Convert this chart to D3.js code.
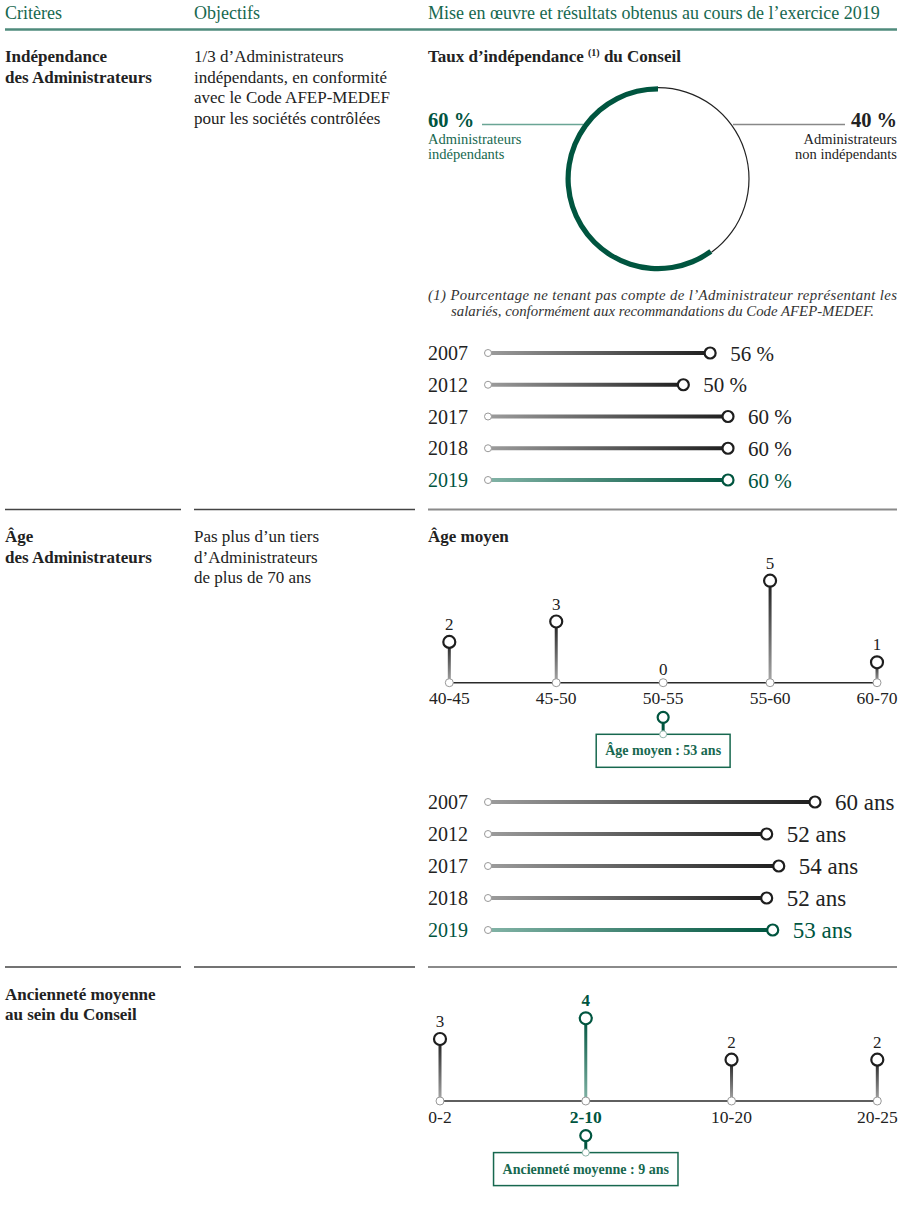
<!DOCTYPE html>
<html>
<head>
<meta charset="utf-8">
<script src="https://cdn.jsdelivr.net/npm/d3@7"></script>
<style>
  body { margin: 0; background: #fff; }
  svg { display: block; font-family: 'Liberation Serif', 'DejaVu Serif', serif; }
</style>
</head>
<body>
<script>
// --- data ---
const headers = ['Critères', 'Objectifs', 'Mise en œuvre et résultats obtenus au cours de l’exercice 2019']
const criteria = [
  ['Indépendance', 'des Administrateurs'],
  ['Âge', 'des Administrateurs'],
  ['Ancienneté moyenne', 'au sein du Conseil']
]
const objectives = [
  ['1/3 d’Administrateurs', 'indépendants, en conformité', 'avec le Code AFEP-MEDEF', 'pour les sociétés contrôlées'],
  ['Pas plus d’un tiers', 'd’Administrateurs', 'de plus de 70 ans'],
  []
]
const donutLabels = [['Administrateurs', 'indépendants'], ['Administrateurs', 'non indépendants']]
const donutValues = [60, 40]
const footnote = [
  '(1) Pourcentage ne tenant pas compte de l’Administrateur représentant les',
  'salariés, conformément aux recommandations du Code AFEP-MEDEF.'
]
const years = ['2007', '2012', '2017', '2018', '2019']
const independenceRates = [56, 50, 60, 60, 60]
const ageBands = ['40-45', '45-50', '50-55', '55-60', '60-70']
const ageCounts = [2, 3, 0, 5, 1]
const averageAges = [60, 52, 54, 52, 53]
const meanAge = 53
const tenureBands = ['0-2', '2-10', '10-20', '20-25']
const tenureCounts = [3, 4, 2, 2]
const meanTenure = 9
const tenureHighlight = '2-10'

const green = '#00553f', greenText = '#17684f', greenLight = '#6aa595', ink = '#222'

const svg = d3.select('body').append('svg').attr('width', 904).attr('height', 1210)

// gradients
const defs = svg.append('defs')
function grad(id, from, to, vertical) {
  const g = defs.append('linearGradient').attr('id', id)
    .attr('x1', 0).attr('y1', vertical ? 1 : 0).attr('x2', vertical ? 0 : 1).attr('y2', 0)
  g.append('stop').attr('offset', 0).attr('stop-color', from)
  g.append('stop').attr('offset', 1).attr('stop-color', to)
}
grad('hGrey', '#9c9c9c', '#1e1e1e', false)
grad('hGreen', '#82b3a6', green, false)
grad('vGrey', '#a8a8a8', '#1e1e1e', true)
grad('vGreen', '#82b3a6', green, true)

// --- header ---
const colX = [5, 194, 428]
svg.selectAll('text.hdr').data(headers).join('text')
  .attr('class', 'hdr')
  .attr('x', (d, i) => colX[i]).attr('y', 18.5)
  .attr('fill', greenText).attr('font-size', 18)
  .text(d => d)
svg.append('line').attr('x1', 5).attr('x2', 897).attr('y1', 29.5).attr('y2', 29.5)
  .attr('stroke', '#4f8b7c').attr('stroke-width', 2.5)

// section separators
const sepY = [29.5, 509.5, 967]
;[509.5, 967].forEach(y => {
  ;[[5, 181, '#444', 1.5], [194, 415, '#444', 1.5], [428, 897, '#8a8a8a', 2]].forEach(s => {
    svg.append('line').attr('x1', s[0]).attr('x2', s[1]).attr('y1', y).attr('y2', y)
      .attr('stroke', s[2]).attr('stroke-width', s[3])
  })
})

// criteria + objectives
criteria.forEach((lines, i) => {
  svg.append('text').attr('x', 5).attr('y', sepY[i] + 32.5)
    .attr('font-size', 17).attr('font-weight', 'bold').attr('fill', ink)
    .selectAll('tspan').data(lines).join('tspan')
    .attr('x', 5).attr('dy', (d, j) => j ? 20.5 : 0).text(d => d)
  svg.append('text').attr('x', 194).attr('y', sepY[i] + 32.5)
    .attr('font-size', 17).attr('fill', ink)
    .selectAll('tspan').data(objectives[i]).join('tspan')
    .attr('x', 194).attr('dy', (d, j) => j ? 20.7 : 0).text(d => d)
})

// chart titles
const t1 = svg.append('text').attr('x', 428).attr('y', 62)
  .attr('font-size', 17).attr('font-weight', 'bold').attr('fill', ink)
t1.append('tspan').text('Taux d’indépendance ')
t1.append('tspan').attr('font-size', 10).attr('dy', -6).text('(1)')
t1.append('tspan').attr('dy', 6).text(' du Conseil')
svg.append('text').attr('x', 428).attr('y', 541.5)
  .attr('font-size', 17).attr('font-weight', 'bold').attr('fill', ink).text('Âge moyen')

// --- donut ---
const cx = 658, cy = 178.7
const pie = d3.pie().sort(null).startAngle(0).endAngle(-2 * Math.PI)
const arcs = pie(donutValues)
const donut = svg.append('g').attr('transform', `translate(${cx},${cy})`)
donut.append('path')
  .attr('d', d3.arc().innerRadius(90.4).outerRadius(91.6)(arcs[1]))
  .attr('fill', ink)
donut.append('path')
  .attr('d', d3.arc().innerRadius(87.3).outerRadius(92.5)(arcs[0]))
  .attr('fill', green)

svg.append('line').attr('x1', 482).attr('x2', 583).attr('y1', 124.5).attr('y2', 124.5)
  .attr('stroke', greenLight).attr('stroke-width', 1.5)
svg.append('line').attr('x1', 733).attr('x2', 845).attr('y1', 124.5).attr('y2', 124.5)
  .attr('stroke', '#888').attr('stroke-width', 1.5)

svg.append('text').attr('x', 428).attr('y', 126.5)
  .attr('font-size', 20.5).attr('font-weight', 'bold').attr('fill', green)
  .text(donutValues[0] + ' %')
svg.append('text').attr('x', 897).attr('y', 126.5).attr('text-anchor', 'end')
  .attr('font-size', 20.5).attr('font-weight', 'bold').attr('fill', ink)
  .text(donutValues[1] + ' %')
svg.append('text').attr('x', 428).attr('y', 143.5)
  .attr('font-size', 14.5).attr('fill', greenText)
  .selectAll('tspan').data(donutLabels[0]).join('tspan')
  .attr('x', 428).attr('dy', (d, j) => j ? 15 : 0).text(d => d)
svg.append('text').attr('x', 897).attr('y', 143.5).attr('text-anchor', 'end')
  .attr('font-size', 14.5).attr('fill', ink)
  .selectAll('tspan').data(donutLabels[1]).join('tspan')
  .attr('x', 897).attr('dy', (d, j) => j ? 15 : 0).text(d => d)

// footnote
svg.append('text').attr('x', 428).attr('y', 300)
  .attr('font-size', 14.8).attr('font-style', 'italic').attr('fill', '#333')
  .attr('textLength', 469).attr('lengthAdjust', 'spacing').text(footnote[0])
svg.append('text').attr('x', 451).attr('y', 316)
  .attr('font-size', 14.8).attr('font-style', 'italic').attr('fill', '#333').text(footnote[1])

// --- horizontal history bars ---
function drawBars(values, yRange, xScale, suffix, valueSize) {
  const y = d3.scalePoint().domain(years).range(yRange)
  const rows = years.map((yr, i) => ({ yr, v: values[i], hi: yr === '2019' }))
  const g = svg.append('g')
  const x0 = 488
  g.selectAll('text.yr').data(rows).join('text')
    .attr('x', 428).attr('y', d => y(d.yr) + 7)
    .attr('font-size', 20).attr('fill', d => d.hi ? green : ink).text(d => d.yr)
  g.selectAll('rect').data(rows).join('rect')
    .attr('x', x0).attr('y', d => y(d.yr) - 2)
    .attr('width', d => xScale(d.v) - x0).attr('height', 4)
    .attr('fill', d => d.hi ? 'url(#hGreen)' : 'url(#hGrey)')
  g.selectAll('circle.s').data(rows).join('circle')
    .attr('cx', x0).attr('cy', d => y(d.yr)).attr('r', 3.5)
    .attr('fill', '#fff').attr('stroke', '#999').attr('stroke-width', 1)
  g.selectAll('circle.e').data(rows).join('circle')
    .attr('cx', d => xScale(d.v)).attr('cy', d => y(d.yr)).attr('r', 5.5)
    .attr('fill', '#fff').attr('stroke', d => d.hi ? green : '#1e1e1e').attr('stroke-width', 2.2)
  g.selectAll('text.v').data(rows).join('text')
    .attr('x', d => xScale(d.v) + 20).attr('y', d => y(d.yr) + 7.5)
    .attr('font-size', valueSize).attr('fill', d => d.hi ? green : ink)
    .text(d => d.v + suffix)
}
drawBars(independenceRates, [353, 480], d3.scaleLinear().domain([0, 60]).range([460, 728]), ' %', 21)
drawBars(averageAges, [802, 930], d3.scaleLinear().domain([0, 60]).range([452.6, 815]), ' ans', 23)

// --- lollipop distributions ---
function drawLollipop(bands, counts, xRange, axisY, yTop, mean, meanLabel, highlight) {
  const x = d3.scalePoint().domain(bands).range(xRange)
  const y = d3.scaleLinear().domain([0, d3.max(counts)]).range([axisY, yTop])
  const data = bands.map((b, i) => ({ b, v: counts[i], hi: b === highlight }))
  const g = svg.append('g')
  g.append('line').attr('x1', xRange[0]).attr('x2', xRange[1]).attr('y1', axisY).attr('y2', axisY)
    .attr('stroke', '#2a2a2a').attr('stroke-width', 1.6)
  g.selectAll('rect').data(data.filter(d => d.v > 0)).join('rect')
    .attr('x', d => x(d.b) - 1.5).attr('y', d => y(d.v))
    .attr('width', 3).attr('height', d => axisY - y(d.v))
    .attr('fill', d => d.hi ? 'url(#vGreen)' : 'url(#vGrey)')
  g.selectAll('circle.t').data(data).join('circle')
    .attr('cx', d => x(d.b)).attr('cy', axisY).attr('r', 4)
    .attr('fill', '#fff').attr('stroke', '#999').attr('stroke-width', 1)
  g.selectAll('circle.h').data(data.filter(d => d.v > 0)).join('circle')
    .attr('cx', d => x(d.b)).attr('cy', d => y(d.v)).attr('r', 6)
    .attr('fill', '#fff').attr('stroke', d => d.hi ? green : '#1e1e1e').attr('stroke-width', 2.2)
  g.selectAll('text.v').data(data).join('text')
    .attr('x', d => x(d.b)).attr('y', d => d.v > 0 ? y(d.v) - 12 : axisY - 8)
    .attr('text-anchor', 'middle').attr('font-size', 17)
    .attr('font-weight', d => d.hi ? 'bold' : 'normal')
    .attr('fill', d => d.hi ? green : ink).text(d => d.v)
  g.selectAll('text.c').data(data).join('text')
    .attr('x', d => x(d.b)).attr('y', axisY + 21.5)
    .attr('text-anchor', 'middle').attr('font-size', 17.5)
    .attr('font-weight', d => d.hi ? 'bold' : 'normal')
    .attr('fill', d => d.hi ? green : ink).text(d => d.b)

  // mean marker
  const meanBand = bands.find(b => {
    const [lo, hi] = b.split('-').map(Number)
    return mean >= lo && mean < hi
  })
  const mx = x(meanBand)
  const boxTop = axisY + 51.6
  g.append('rect').attr('x', mx - 1.5).attr('y', axisY + 38).attr('width', 3)
    .attr('height', boxTop - axisY - 38).attr('fill', green)
  g.append('circle').attr('cx', mx).attr('cy', axisY + 34.6).attr('r', 5.5)
    .attr('fill', '#fff').attr('stroke', green).attr('stroke-width', 2.2)
  const label = g.append('text').attr('x', mx).attr('y', boxTop + 21)
    .attr('text-anchor', 'middle').attr('font-size', 14).attr('font-weight', 'bold')
    .attr('fill', greenText).text(meanLabel)
  const w = label.node().getComputedTextLength()
  g.insert('rect', 'text').attr('x', mx - w / 2 - 9).attr('y', boxTop)
    .attr('width', w + 18).attr('height', 33)
    .attr('fill', '#fff').attr('stroke', greenText).attr('stroke-width', 1.5)
  g.append('circle').attr('cx', mx).attr('cy', boxTop).attr('r', 3.5)
    .attr('fill', '#fff').attr('stroke', '#8fb5aa').attr('stroke-width', 1)
}
drawLollipop(ageBands, ageCounts, [449.3, 877], 682.7, 580.7, meanAge,
  'Âge moyen : ' + meanAge + ' ans', null)
drawLollipop(tenureBands, tenureCounts, [440, 877.3], 1101, 1018.3, meanTenure,
  'Ancienneté moyenne : ' + meanTenure + ' ans', tenureHighlight)
</script>
</body>
</html>
